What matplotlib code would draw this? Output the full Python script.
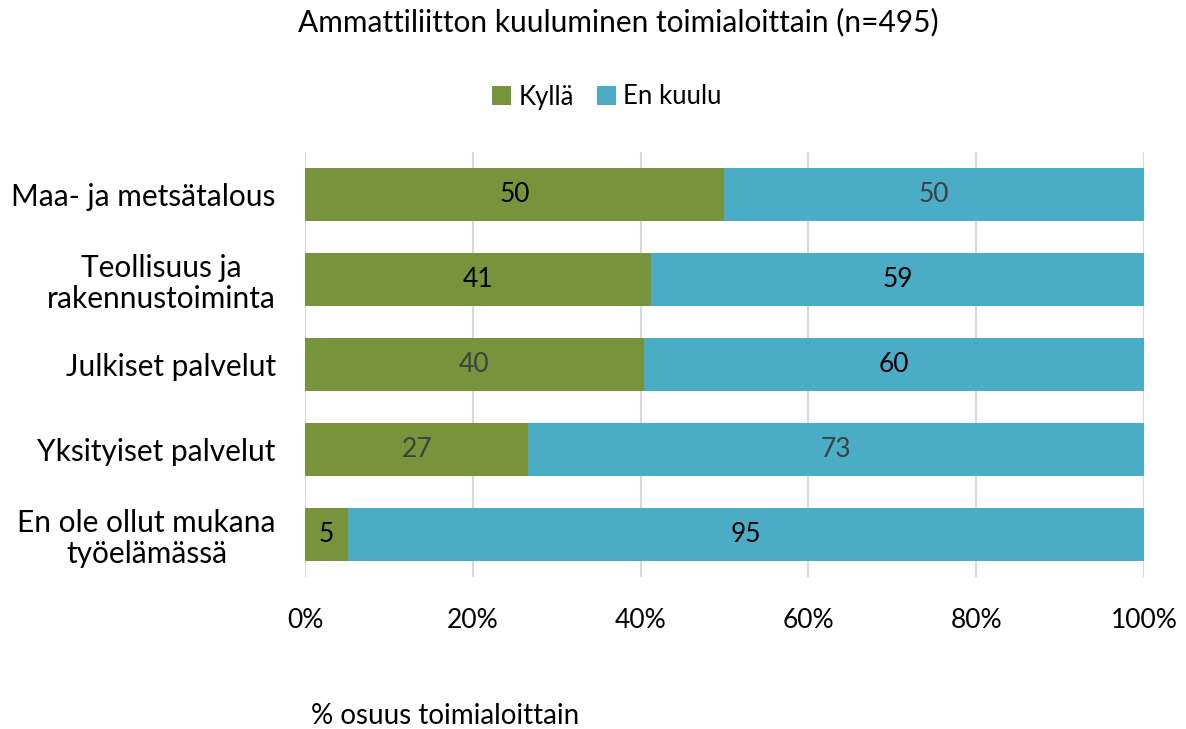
import matplotlib
matplotlib.use("Agg")
import matplotlib.pyplot as plt
import numpy as np

plt.rcParams['font.family'] = ['Lato', 'DejaVu Sans']

categories = ["Maa- ja metsätalous", "Teollisuus ja\nrakennustoiminta", "Julkiset palvelut",
              "Yksityiset palvelut", "En ole ollut mukana\ntyöelämässä"]
kylla = [49.9, 41.2, 40.4, 26.6, 5.1]
en_kuulu = [50.1, 58.8, 59.6, 73.4, 94.9]
kylla_labels = ["50", "41", "40", "27", "5"]
en_labels = ["50", "59", "60", "73", "95"]
kylla_label_colors = ["black", "black", "#404040", "#404040", "black"]
en_label_colors = ["#404040", "black", "black", "#404040", "black"]
ticks = [0, 20, 40, 60, 80, 100]
tick_labels = ["0%", "20%", "40%", "60%", "80%", "100%"]

green = "#77933C"
blue = "#4BACC6"

fig = plt.figure(figsize=(11.86, 7.29), dpi=100)
ax = fig.add_axes([305/1186, 1-577/729, (1144-305)/1186, (577-152)/729])

y = np.arange(len(categories))
h = 0.62
b1 = ax.barh(y, kylla, height=h, color=green, label="Kyllä", zorder=3)
b2 = ax.barh(y, en_kuulu, left=kylla, height=h, color=blue, label="En kuulu", zorder=3)

for i in range(len(categories)):
    ax.text(kylla[i]/2, y[i], kylla_labels[i], ha="center", va="center",
            fontsize=19, color=kylla_label_colors[i], zorder=4)
    ax.text(kylla[i] + en_kuulu[i]/2, y[i], en_labels[i], ha="center", va="center",
            fontsize=19, color=en_label_colors[i], zorder=4)

ax.set_xlim(0, 100)
ax.set_ylim(len(categories)-0.5, -0.5)
ax.set_xticks(ticks)
ax.set_xticklabels(tick_labels, fontsize=19)
ax.set_yticks(y)
ax.set_yticklabels(categories, fontsize=21.5, ha="right", multialignment="center",
                   linespacing=1.12)
ax.tick_params(axis="y", length=0, pad=21)
ax.tick_params(axis="x", length=0, pad=22)
ax.grid(axis="x", color="#d9d9d9", linewidth=1.5, zorder=0)
for s in ax.spines.values():
    s.set_visible(False)

fig.text(618/1186, 1-22/729, "Ammattiliitton kuuluminen toimialoittain (n=495)",
         ha="center", va="center", fontsize=21.5)
fig.text(445/1186, 1-716/729, "% osuus toimialoittain", ha="center", va="center", fontsize=20)

fig.legend(handles=[b1, b2], loc="center", bbox_to_anchor=(607/1186, 1-97/729), ncol=2,
           frameon=False, fontsize=18.5, handlelength=0.72, handleheight=0.72,
           handletextpad=0.3, columnspacing=0.9)

fig.savefig("out.png", dpi=100)
